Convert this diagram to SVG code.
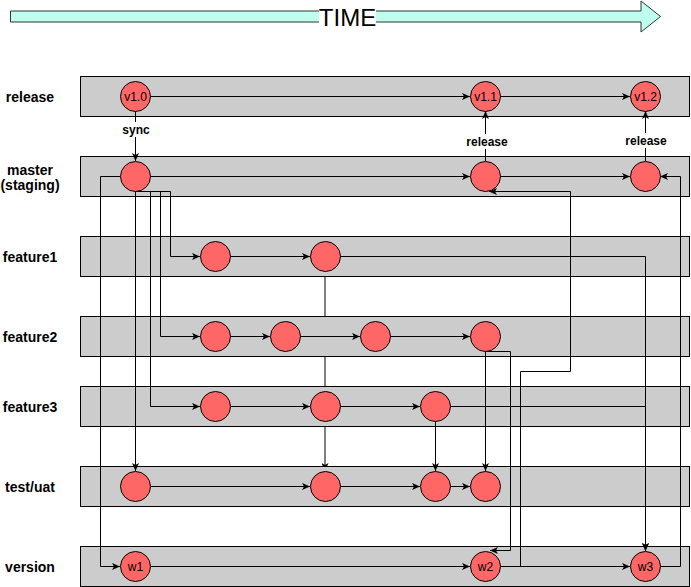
<svg xmlns="http://www.w3.org/2000/svg" width="691" height="587" viewBox="0 0 691 587">
<defs>
<style>
.lane{fill:#cccccc;stroke:#000;stroke-width:1}
.node{fill:#ff6666;stroke:#000;stroke-width:1}
.edge{fill:none;stroke:#000;stroke-width:1}
.arr{marker-end:url(#ah)}
.lbl{font-family:"Liberation Sans",Arial,sans-serif;font-weight:bold;font-size:14px;fill:#000;text-anchor:middle}
.elbl{font-family:"Liberation Sans",Arial,sans-serif;font-weight:bold;font-size:12px;fill:#000;text-anchor:middle}
.ntxt{font-family:"Liberation Sans",Arial,sans-serif;font-size:12px;fill:#000;text-anchor:middle}
</style>
<marker id="ah" markerUnits="userSpaceOnUse" markerWidth="8" markerHeight="7" refX="8" refY="3.5" orient="auto" viewBox="0 0 8 7">
<path d="M0,0 L8,3.5 L0,7 L2,3.5 Z" fill="#000"/>
</marker>
</defs>
<rect width="691" height="587" fill="#fff"/>

<g id="time-arrow">
<path d="M10.5,11 H641 V1 L660.5,16.5 L641,32 V22 H10.5 Z" fill="#bfffef" stroke="#333" stroke-width="1"/>
<rect x="319" y="5" width="57" height="24" fill="#fff"/>
<text x="347.5" y="25.5" font-family="'Liberation Sans',Arial,sans-serif" font-size="24" text-anchor="middle" fill="#000">TIME</text>
</g>

<g id="connectors-back">
<path class="edge arr" d="M325,271 V471"/>
</g>

<g id="lanes">
<g id="lane-release"><rect class="lane" x="80.5" y="76.5" width="609" height="40"/><text class="lbl" x="30" y="102">release</text></g>
<g id="lane-master"><rect class="lane" x="80.5" y="156.5" width="609" height="40"/><text class="lbl" x="30" y="175">master</text><text class="lbl" x="30" y="190">(staging)</text></g>
<g id="lane-feature1"><rect class="lane" x="80.5" y="236.5" width="609" height="40"/><text class="lbl" x="30" y="262">feature1</text></g>
<g id="lane-feature2"><rect class="lane" x="80.5" y="316.5" width="609" height="40"/><text class="lbl" x="30" y="342">feature2</text></g>
<g id="lane-feature3"><rect class="lane" x="80.5" y="386.5" width="609" height="40"/><text class="lbl" x="30" y="412">feature3</text></g>
<g id="lane-test"><rect class="lane" x="80.5" y="466.5" width="609" height="40"/><text class="lbl" x="30" y="492">test/uat</text></g>
<g id="lane-version"><rect class="lane" x="80.5" y="546.5" width="609" height="40"/><text class="lbl" x="30" y="572">version</text></g>
</g>

<g id="connectors">
<path class="edge arr" d="M150,96.5 H470"/>
<path class="edge arr" d="M500,96.5 H630"/>
<path class="edge arr" d="M135.5,111 V161"/>
<path class="edge arr" d="M485.5,161 V111"/>
<path class="edge arr" d="M645.5,161 V111"/>
<path class="edge arr" d="M150,176.5 H470"/>
<path class="edge arr" d="M500,176.5 H630"/>
<path class="edge arr" d="M120,176.5 H100.5 V566.5 H120"/>
<path class="edge arr" d="M135.5,191 V471"/>
<path class="edge arr" d="M135.5,191.5 H170.5 V256.5 H200"/>
<path class="edge arr" d="M135.5,191.5 H160.5 V336.5 H200"/>
<path class="edge arr" d="M135.5,191.5 H150.5 V406.5 H200"/>
<path class="edge arr" d="M230,256.5 H310"/>
<path class="edge arr" d="M340,256.5 H645.5 V551"/>
<path class="edge arr" d="M230,336.5 H270"/>
<path class="edge arr" d="M300,336.5 H360"/>
<path class="edge arr" d="M390,336.5 H470"/>
<path class="edge arr" d="M485.5,351 V471"/>
<path class="edge arr" d="M485.5,351.5 H510.5 V550.5 H490"/>
<path class="edge arr" d="M230,406.5 H310"/>
<path class="edge arr" d="M340,406.5 H420"/>
<path class="edge arr" d="M450,406.5 H645.5 V551"/>
<path class="edge arr" d="M435.5,421 V471"/>
<path class="edge arr" d="M150,486.5 H310"/>
<path class="edge arr" d="M340,486.5 H420"/>
<path class="edge arr" d="M450,486.5 H470"/>
<path class="edge arr" d="M150,566.5 H470"/>
<path class="edge arr" d="M500,566.5 H630"/>
<path class="edge arr" d="M500,566.5 H520.5 V371.5 H570.5 V191.5 H489"/>
<path class="edge arr" d="M660,566.5 H680.5 V176.5 H660"/>
<rect x="121" y="122" width="30" height="15" fill="#fff"/>
<text class="elbl" x="136" y="134">sync</text>
<rect x="466" y="134" width="42" height="15" fill="#fff"/>
<text class="elbl" x="487" y="146">release</text>
<rect x="625" y="133" width="42" height="15" fill="#fff"/>
<text class="elbl" x="646" y="145">release</text>
</g>

<g id="nodes">
<g id="v1-0"><circle class="node" cx="135.5" cy="96.5" r="15"/><text class="ntxt" x="135.5" y="100.5">v1.0</text></g>
<g id="v1-1"><circle class="node" cx="485.5" cy="96.5" r="15"/><text class="ntxt" x="485.5" y="100.5">v1.1</text></g>
<g id="v1-2"><circle class="node" cx="645.5" cy="96.5" r="15"/><text class="ntxt" x="645.5" y="100.5">v1.2</text></g>
<g id="m1"><circle class="node" cx="135.5" cy="176.5" r="15"/></g>
<g id="m2"><circle class="node" cx="485.5" cy="176.5" r="15"/></g>
<g id="m3"><circle class="node" cx="645.5" cy="176.5" r="15"/></g>
<g id="f1a"><circle class="node" cx="215.5" cy="256.5" r="15"/></g>
<g id="f1b"><circle class="node" cx="325.5" cy="256.5" r="15"/></g>
<g id="f2a"><circle class="node" cx="215.5" cy="336.5" r="15"/></g>
<g id="f2b"><circle class="node" cx="285.5" cy="336.5" r="15"/></g>
<g id="f2c"><circle class="node" cx="375.5" cy="336.5" r="15"/></g>
<g id="f2d"><circle class="node" cx="485.5" cy="336.5" r="15"/></g>
<g id="f3a"><circle class="node" cx="215.5" cy="406.5" r="15"/></g>
<g id="f3b"><circle class="node" cx="325.5" cy="406.5" r="15"/></g>
<g id="f3c"><circle class="node" cx="435.5" cy="406.5" r="15"/></g>
<g id="t1"><circle class="node" cx="135.5" cy="486.5" r="15"/></g>
<g id="t2"><circle class="node" cx="325.5" cy="486.5" r="15"/></g>
<g id="t3"><circle class="node" cx="435.5" cy="486.5" r="15"/></g>
<g id="t4"><circle class="node" cx="485.5" cy="486.5" r="15"/></g>
<g id="w1"><circle class="node" cx="135.5" cy="566.5" r="15"/><text class="ntxt" x="135.5" y="570.5">w1</text></g>
<g id="w2"><circle class="node" cx="485.5" cy="566.5" r="15"/><text class="ntxt" x="485.5" y="570.5">w2</text></g>
<g id="w3"><circle class="node" cx="645.5" cy="566.5" r="15"/><text class="ntxt" x="645.5" y="570.5">w3</text></g>
</g>
</svg>
